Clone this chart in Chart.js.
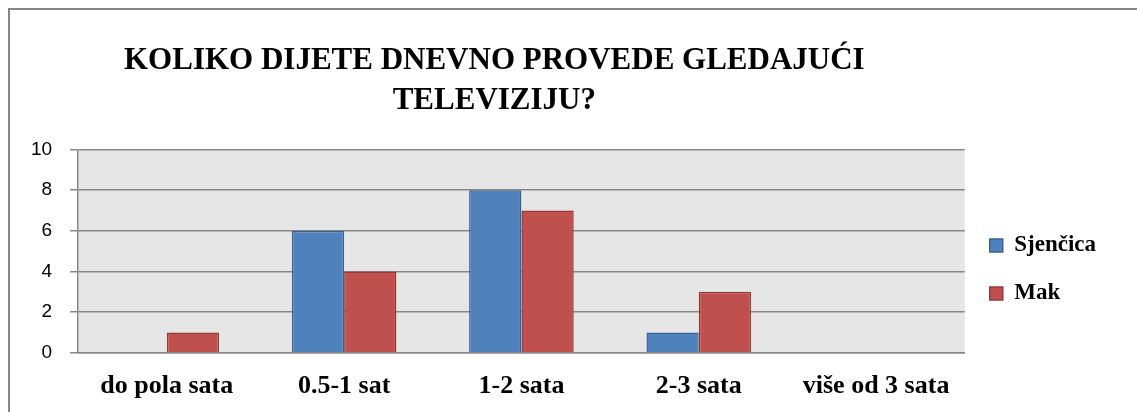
<!DOCTYPE html>
<html>
<head>
<meta charset="utf-8">
<script src="https://cdn.jsdelivr.net/npm/chart.js@4/dist/chart.umd.min.js"></script>
<style>
    html, body { margin: 0; padding: 0; background: #fff; overflow: hidden; width: 1137px; height: 412px; }
    .frame {
        position: absolute; left: 8px; top: 8px;
        width: 1200px; height: 500px;
        border-left: 2px solid #878787; border-top: 2px solid #878787;
    }
    canvas { display: block; }
</style>
</head>
<body>
<div class="frame">
    <canvas id="tv-chart" width="1127" height="410"></canvas>
</div>
<script>
const titleLines = ['KOLIKO DIJETE DNEVNO PROVEDE GLEDAJUĆI', 'TELEVIZIJU?'];
const categories = ['do pola sata', '0.5-1 sat', '1-2 sata', '2-3 sata', 'više od 3 sata'];
const sjencica = [0, 6, 8, 1, 0];
const mak = [1, 4, 7, 3, 0];
const yTicks = [0, 2, 4, 6, 8, 10];

const serif = '"Liberation Serif", "Times New Roman", serif';

// grey plot background, drawn under the grid
const plotBackground = {
    id: 'plotBackground',
    beforeDraw(chart) {
        const { ctx, chartArea } = chart;
        ctx.save();
        ctx.fillStyle = '#e6e6e6';
        ctx.fillRect(chartArea.left, chartArea.top, chartArea.right - chartArea.left, chartArea.bottom - chartArea.top);
        ctx.restore();
    }
};

new Chart(document.getElementById('tv-chart'), {
    type: 'bar',
    data: {
        labels: categories,
        datasets: [
            { label: 'Sjenčica', data: sjencica, backgroundColor: '#4f81bd', borderColor: '#3a6395', borderWidth: 1.5 },
            { label: 'Mak', data: mak, backgroundColor: '#c0504d', borderColor: '#913c3a', borderWidth: 1.5 }
        ]
    },
    options: {
        responsive: false,
        devicePixelRatio: 1,
        animation: false,
        categoryPercentage: 0.59,
        barPercentage: 1,
        layout: { padding: { left: 3, right: 31, top: 0, bottom: 0 } },
        plugins: {
            title: {
                display: true,
                // trailing spaces nudge the centred title left, as in the original
                text: titleLines.map(t => t + '\u00a0'.repeat(7)),
                fullSize: false,
                color: '#000',
                font: { family: serif, size: 31, weight: 'bold', lineHeight: 1.3 },
                padding: { top: 31, bottom: 28 }
            },
            legend: {
                position: 'right',
                fullSize: false,
                title: { display: true, text: ' ', padding: 11, font: { size: 12 } },
                labels: {
                    boxWidth: 13,
                    boxHeight: 13,
                    padding: 25,
                    color: '#000',
                    font: { family: serif, size: 23, weight: 'bold' }
                }
            },
            tooltip: { enabled: false }
        },
        scales: {
            x: {
                grid: { display: false, drawTicks: false },
                border: { display: true, color: '#878787', width: 1.5 },
                ticks: {
                    color: '#000',
                    padding: 18,
                    font: { family: serif, size: 26, weight: 'bold' }
                }
            },
            y: {
                min: yTicks[0],
                max: yTicks[yTicks.length - 1],
                afterBuildTicks: (axis) => { axis.ticks = yTicks.map(v => ({ value: v })); },
                grid: { color: '#878787', lineWidth: 1.5, tickLength: 8 },
                border: { display: true, color: '#878787', width: 1.5 },
                ticks: {
                    color: '#000',
                    padding: 18,
                    font: { family: '"Liberation Sans", Arial, sans-serif', size: 19 }
                }
            }
        }
    },
    plugins: [plotBackground]
});
</script>
</body>
</html>
